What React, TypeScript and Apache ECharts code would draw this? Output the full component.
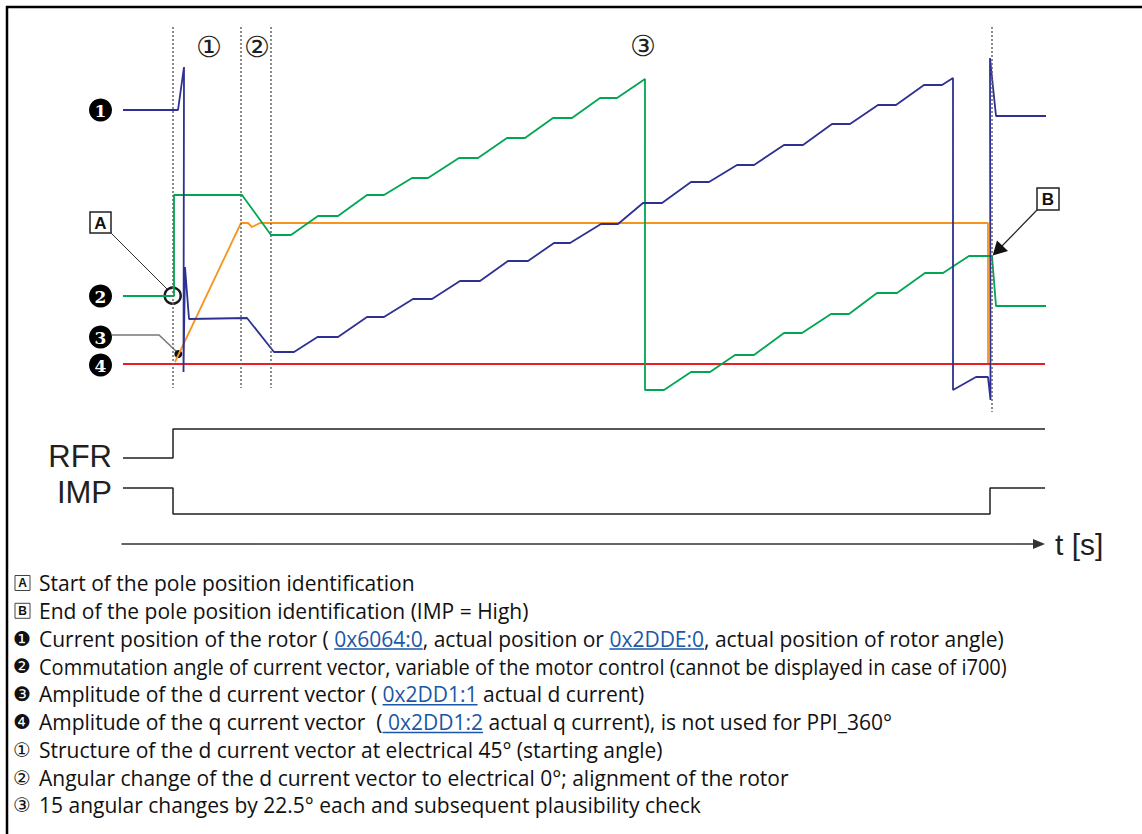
import React, { useEffect, useRef } from "react";
import * as echarts from "echarts";

// ---- Data (time t in plot units from the left edge of the traces; signal level in plot units above the q-current baseline) ----
const rotorPosition: [number, number][] = [
  [0, 254], [55, 254], [61, 297], [60.5, -8], [62, 97], [66, 45], [124, 46], [151, 12], [171, 12],
  [194.5, 27], [215, 27], [244, 47], [261, 47], [290, 65], [309, 65], [337, 83], [357, 83],
  [385, 103], [405, 103], [431, 121], [447, 121], [478, 140], [495, 140], [520, 161], [539, 161],
  [568, 182], [586, 182], [614, 199], [631, 199], [661, 219], [680, 219], [709, 240], [727, 240],
  [755, 259], [773, 259], [801, 279], [819, 279], [830, 286], [830, -26], [853, -13], [865, -13],
  [867.5, -36], [867, 306], [873, 248], [923, 248],
];
const commutationAngle: [number, number][] = [
  [0, 68], [51, 68], [51, 169], [119, 169], [148, 129], [168, 129], [195, 148], [215, 148],
  [244, 169], [261, 169], [289, 186], [305, 186], [336, 206], [355, 206], [384, 226], [402, 226],
  [430, 246], [449, 246], [477, 266], [494, 266], [522, 285], [522, -26], [541, -26], [568, -8],
  [587, -8], [612, 9], [631, 9], [661, 31], [679, 31], [708, 50], [726, 50], [754, 71], [774, 71],
  [802, 91], [820, 91], [846, 108], [869, 108], [873, 58], [923, 58],
];
const dCurrent: [number, number][] = [
  [52, 2], [118, 141], [125, 141], [129, 137], [137, 141], [865, 141], [865, 1],
];
const qCurrent: [number, number][] = [[0, 0], [922, 0]];
const phaseBoundaries: number[] = [50, 118, 148];
const endBoundary = 869;
const rfrSignal: [number, number][] = [[0, 0], [50, 0], [50, 1], [922, 1]];
const impSignal: [number, number][] = [[0, 1], [50, 1], [50, 0], [867, 0], [867, 1], [922, 1]];

const traceMarkers = ["1", "2", "3", "4"];
const phaseLabels = ["①", "②", "③"];

type Seg = { t: string; link?: boolean };
const legendIcons = ["A", "B", "❶", "❷", "❸", "❹", "①", "②", "③"];
const legendTexts: Seg[][] = [
  [{ t: "Start of the pole position identification" }],
  [{ t: "End of the pole position identification (IMP = High)" }],
  [
    { t: "Current position of the rotor ( " },
    { t: "0x6064:0", link: true },
    { t: ", actual position or " },
    { t: "0x2DDE:0", link: true },
    { t: ", actual position of rotor angle)" },
  ],
  [{ t: "Commutation angle of current vector, variable of the motor control (cannot be displayed in case of i700)" }],
  [{ t: "Amplitude of the d current vector ( " }, { t: "0x2DD1:1", link: true }, { t: " actual d current)" }],
  [
    { t: "Amplitude of the q current vector  (" },
    { t: " 0x2DD1:2", link: true },
    { t: " actual q current), is not used for PPI_360°" },
  ],
  [{ t: "Structure of the d current vector at electrical 45° (starting angle)" }],
  [{ t: "Angular change of the d current vector to electrical 0°; alignment of the rotor" }],
  [{ t: "15 angular changes by 22.5° each and subsequent plausibility check" }],
];
// row widths (px) where the reference's font runs narrower than ours
const legendFitWidth: (number | null)[] = [null, null, null, 969, null, null, null, null, null];

const BLUE = "#2e3192";
const GREEN = "#00a651";
const ORANGE = "#f7941d";
const RED = "#ed1c24";
const INK = "#231f20";
const LINK = "#1b57a6";
const LEG_FAMILY = '"Open Sans", "DejaVu Sans", sans-serif';
const LEG_SIZE = 21;
const SYM_FAMILY = '"DejaVu Sans", sans-serif';
const SERIF = '"DejaVu Serif", "Liberation Serif", serif';
const ARIAL = '"Liberation Sans", Arial, sans-serif';

function txt(x: number, y: number, text: string, size: number, family: string, opts: any = {}) {
  const align = opts.align || "left";
  const valign = opts.valign || "middle";
  const el: any = {
    type: "text",
    x,
    y,
    silent: true,
    style: {
      text,
      fill: opts.fill || INK,
      fontSize: size,
      fontFamily: family,
      fontWeight: opts.weight || "normal",
      align,
      verticalAlign: valign,
      textAlign: align,
      textVerticalAlign: valign,
    },
  };
  if (opts.scaleX) el.scaleX = opts.scaleX;
  return el;
}

function buildGraphic(): any[] {
  const g: any[] = [];
  // frame
  g.push({ type: "line", silent: true, shape: { x1: 6, y1: 7, x2: 1142, y2: 7 }, style: { stroke: "#000", lineWidth: 2.5 } });
  g.push({ type: "line", silent: true, shape: { x1: 7, y1: 6, x2: 7, y2: 834 }, style: { stroke: "#000", lineWidth: 2.5 } });

  // trace markers (black discs with white numbers)
  const markerY = [110, 296, 337, 365];
  traceMarkers.forEach((m, i) => {
    g.push({ type: "circle", silent: true, shape: { cx: 100.5, cy: markerY[i], r: 11.5 }, style: { fill: "#000" } });
    g.push(txt(100.5, markerY[i] + 0.5, m, 17, SERIF, { align: "center", fill: "#fff", weight: "bold" }));
  });
  // phase labels
  const phaseXY = [[209, 47], [257, 47], [643, 46]];
  phaseLabels.forEach((m, i) => g.push(txt(phaseXY[i][0], phaseXY[i][1], m, 29, SYM_FAMILY, { align: "center", fill: INK })));

  // box A + leader + circle
  g.push({ type: "rect", silent: true, shape: { x: 90, y: 212, width: 21, height: 21 }, style: { fill: "#fff", stroke: "#222", lineWidth: 1.5 } });
  g.push(txt(100.5, 223, "A", 17, ARIAL, { align: "center", weight: "bold", fill: "#111" }));
  g.push({ type: "line", silent: true, shape: { x1: 111, y1: 233, x2: 167, y2: 289 }, style: { stroke: "#333", lineWidth: 1 } });
  g.push({ type: "circle", silent: true, shape: { cx: 172.7, cy: 295.7, r: 8 }, style: { fill: "none", stroke: "#1a1a1a", lineWidth: 2.5 } });

  // marker 3 leader + dot
  g.push({ type: "polyline", silent: true, shape: { points: [[112, 335], [159, 335], [178, 353]] }, style: { stroke: "#777", lineWidth: 1.5, fill: "none" } });
  g.push({ type: "circle", silent: true, shape: { cx: 178.3, cy: 354, r: 4 }, style: { fill: "#111" } });

  // box B + arrow
  g.push({ type: "rect", silent: true, shape: { x: 1037, y: 188, width: 22, height: 22 }, style: { fill: "#fff", stroke: "#222", lineWidth: 1.5 } });
  g.push(txt(1048, 199, "B", 17, ARIAL, { align: "center", weight: "bold", fill: "#111" }));
  g.push({ type: "line", silent: true, shape: { x1: 1037, y1: 210, x2: 1001, y2: 247 }, style: { stroke: "#222", lineWidth: 1.2 } });
  g.push({ type: "polygon", silent: true, shape: { points: [[992.7, 255.5], [997, 240.5], [1008, 251]] }, style: { fill: "#111" } });

  // digital signal names
  g.push(txt(112, 456, "RFR", 31, ARIAL, { align: "right", fill: INK }));
  g.push(txt(112, 492, "IMP", 31, ARIAL, { align: "right", fill: INK }));

  // legend
  const ctx = document.createElement("canvas").getContext("2d")!;
  ctx.font = `${LEG_SIZE}px ${LEG_FAMILY}`;
  legendIcons.forEach((icon, i) => {
    const y = 583 + i * 27.8;
    if (icon === "A" || icon === "B") {
      g.push({ type: "rect", silent: true, shape: { x: 15, y: y - 7.5, width: 15, height: 15 }, style: { fill: "#fff", stroke: "#444", lineWidth: 1 } });
      g.push(txt(22.5, y, icon, 12, ARIAL, { align: "center", weight: "bold", fill: "#111" }));
    } else {
      g.push(txt(22, y, icon, 20, SYM_FAMILY, { align: "center", fill: "#111" }));
    }
    const total = legendTexts[i].reduce((s, seg) => s + ctx.measureText(seg.t).width, 0);
    const fit = legendFitWidth[i];
    const sx = fit ? Math.min(1, fit / total) : 1;
    let x = 39;
    legendTexts[i].forEach((seg) => {
      const w = ctx.measureText(seg.t).width * sx;
      g.push(txt(x, y, seg.t, LEG_SIZE, LEG_FAMILY, { fill: seg.link ? LINK : "#111", scaleX: sx !== 1 ? sx : undefined }));
      if (seg.link) {
        g.push({ type: "line", silent: true, shape: { x1: x, y1: y + 10.5, x2: x + w, y2: y + 10.5 }, style: { stroke: LINK, lineWidth: 1.5 } });
      }
      x += w;
    });
  });
  return g;
}

function lineSeries(name: string, data: [number, number][], color: string, idx: number, width = 1.8): any {
  return {
    name,
    type: "line",
    xAxisIndex: idx,
    yAxisIndex: idx,
    data,
    symbol: "none",
    clip: false,
    silent: true,
    lineStyle: { color, width },
  };
}

function buildOption(): any {
  const hiddenX = (gridIndex: number) => ({ type: "value", gridIndex, min: 0, max: 922, show: false });
  const hiddenY = (gridIndex: number, min: number, max: number) => ({ type: "value", gridIndex, min, max, show: false });
  const boundaryLines: any[] = phaseBoundaries.map((t) => [{ coord: [t, 337] }, { coord: [t, -24] }]);
  boundaryLines.push([{ coord: [endBoundary, 337] }, { coord: [endBoundary, -48] }]);
  return {
    animation: false,
    backgroundColor: "#fff",
    grid: [
      { left: 123, right: 97, top: 20, height: 400 },
      { left: 123, right: 97, top: 429, height: 29 },
      { left: 123, right: 97, top: 488, height: 26 },
      { left: 122, right: 103, top: 543, height: 1 },
    ],
    xAxis: [
      hiddenX(0),
      hiddenX(1),
      hiddenX(2),
      {
        type: "value",
        gridIndex: 3,
        min: 0,
        max: 1,
        position: "bottom",
        axisLine: { show: true, symbol: ["none", "triangle"], symbolSize: [10, 12], lineStyle: { color: "#333", width: 1.5 } },
        axisTick: { show: false },
        axisLabel: { show: false },
        splitLine: { show: false },
        name: "t [s]",
        nameLocation: "end",
        nameGap: 16,
        nameTextStyle: { fontSize: 30, fontFamily: ARIAL, color: INK, verticalAlign: "middle" },
      },
    ],
    yAxis: [hiddenY(0, -56, 344), hiddenY(1, 0, 1), hiddenY(2, 0, 1), hiddenY(3, 0, 1)],
    series: [
      {
        name: "phases",
        type: "line",
        xAxisIndex: 0,
        yAxisIndex: 0,
        data: [],
        silent: true,
        markLine: {
          silent: true,
          symbol: "none",
          label: { show: false },
          lineStyle: { color: "#666", width: 1.5, type: [2, 2] },
          data: boundaryLines,
        },
      },
      lineSeries("q current", qCurrent, RED, 0),
      lineSeries("d current", dCurrent, ORANGE, 0),
      lineSeries("commutation angle", commutationAngle, GREEN, 0),
      lineSeries("rotor position", rotorPosition, BLUE, 0),
      lineSeries("RFR", rfrSignal, INK, 1, 1.5),
      lineSeries("IMP", impSignal, INK, 2, 1.5),
    ],
    graphic: buildGraphic(),
  };
}

export default function App() {
  const ref = useRef<HTMLDivElement>(null);
  useEffect(() => {
    const chart = echarts.init(ref.current!, null, { renderer: "svg" });
    chart.setOption(buildOption());
    return () => chart.dispose();
  }, []);
  return (
    <div
      ref={ref}
      style={{ position: "absolute", left: 0, top: 0, width: 1142, height: 834, background: "#fff" }}
    />
  );
}
